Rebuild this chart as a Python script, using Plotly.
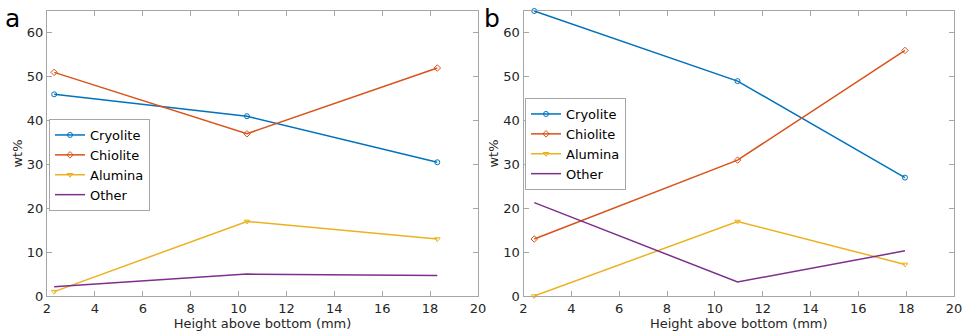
import plotly.graph_objects as go

series = ["Cryolite", "Chiolite", "Alumina", "Other"]
colors = ["#0072BD", "#D95319", "#EDB120", "#7E2F8E"]
symbols = ["circle-open", "diamond-open", "triangle-down-open", None]

x_a = [2.3, 10.35, 18.3]
vals_a = {
    "Cryolite": [46, 41, 30.5],
    "Chiolite": [51, 37, 52],
    "Alumina": [1, 17, 13],
    "Other": [2.1, 5, 4.7],
}
x_b = [2.45, 10.95, 17.95]
vals_b = {
    "Cryolite": [65, 49, 27],
    "Chiolite": [13, 31, 56],
    "Alumina": [0, 17, 7.2],
    "Other": [21.3, 3.2, 10.3],
}
x_ticks = [2, 4, 6, 8, 10, 12, 14, 16, 18, 20]
y_ticks = [0, 10, 20, 30, 40, 50, 60]

fig = go.Figure()
for panel, (xv, vals, xa, ya, lg) in enumerate([
    (x_a, vals_a, "x", "y", "legend"),
    (x_b, vals_b, "x2", "y2", "legend2"),
]):
    for name, c, s in zip(series, colors, symbols):
        mode = "lines+markers" if s else "lines"
        fig.add_trace(go.Scatter(
            x=xv, y=vals[name], name=name, mode=mode,
            line=dict(color=c, width=1.5),
            marker=dict(symbol=s or "circle", size=5, color=c, line=dict(width=1, color=c)),
            xaxis=xa, yaxis=ya, legend=lg, cliponaxis=False,
        ))

axcol = "#a6a6a6"
txtcol = "#262626"
tickfont = dict(family="DejaVu Sans", size=13, color=txtcol)
titlefont = dict(family="DejaVu Sans", size=13, color=txtcol)
common_x = dict(range=[2, 20], tickvals=x_ticks, ticks="inside", ticklen=5, tickcolor=axcol,
                showline=True, linecolor=axcol, linewidth=1, mirror="ticks", showgrid=False,
                zeroline=False, tickfont=tickfont, automargin=False,
                title=dict(text="Height above bottom (mm)", font=titlefont, standoff=3))
common_y = dict(range=[0, 65], tickvals=y_ticks, ticks="inside", ticklen=5, tickcolor=axcol,
                showline=True, linecolor=axcol, linewidth=1, mirror="ticks", showgrid=False,
                zeroline=False, tickfont=tickfont, automargin=False,
                title=dict(text="wt%", font=titlefont, standoff=1))

y_dom = [1 - 296 / 335, 1 - 11 / 335]
legfont = dict(family="DejaVu Sans", size=13, color="black")
fig.update_layout(
    width=965, height=335, margin=dict(l=0, r=0, t=0, b=0, autoexpand=False),
    paper_bgcolor="white", plot_bgcolor="white",
    xaxis=dict(domain=[47 / 965, 478 / 965], anchor="y", **common_x),
    yaxis=dict(domain=y_dom, anchor="x", **common_y),
    xaxis2=dict(domain=[523.5 / 965, 954 / 965], anchor="y2", **common_x),
    yaxis2=dict(domain=y_dom, anchor="x2", **common_y),
    legend=dict(x=49 / 965, y=1 - 119 / 335, xanchor="left", yanchor="top",
                bgcolor="white", bordercolor=axcol, borderwidth=1, font=legfont,
                tracegroupgap=0, itemwidth=30),
    legend2=dict(x=525 / 965, y=1 - 98 / 335, xanchor="left", yanchor="top",
                 bgcolor="white", bordercolor=axcol, borderwidth=1, font=legfont,
                 tracegroupgap=0, itemwidth=30),
    annotations=[
        dict(text="a", x=3 / 965, y=1 - 2 / 335, xref="paper", yref="paper", xanchor="left", yanchor="top",
             showarrow=False, font=dict(family="DejaVu Sans", size=25, color="black")),
        dict(text="b", x=482 / 965, y=1 - 2 / 335, xref="paper", yref="paper", xanchor="left", yanchor="top",
             showarrow=False, font=dict(family="DejaVu Sans", size=25, color="black")),
    ],
)

fig.write_html("out.html")
